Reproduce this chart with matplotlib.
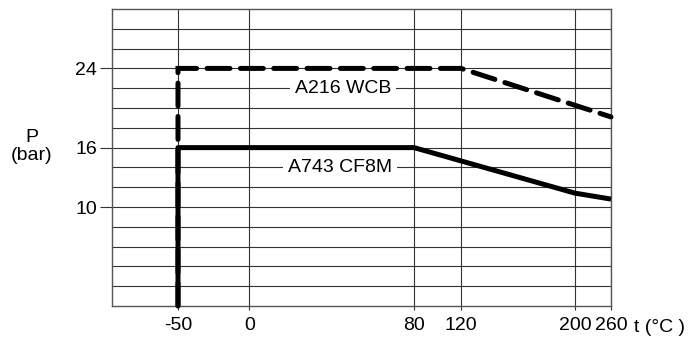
import numpy as np
import matplotlib
matplotlib.use("Agg")
import matplotlib.pyplot as plt

plt.rcParams['font.family'] = ['Liberation Sans', 'DejaVu Sans']
plt.rcParams['lines.scale_dashes'] = False

# data
t_wcb = [-50, -50, 120, 260]
p_wcb = [0, 24, 24, 19.1]
t_cf8m = [-50, -50, 80, 200, 260]
p_cf8m = [0, 16, 16, 11.4, 10.8]

x_ticks = [-50, 0, 80, 120, 200, 260]
y_ticks = [10, 16, 24]

# the temperature axis is not linear: tick -> position on the drawing
scale_t = [-100, -50, 0, 80, 120, 200, 260]
scale_pos = [0, 66, 137.5, 302, 349, 463, 499]


def fwd(x):
    return np.interp(x, scale_t, scale_pos, left=np.nan, right=np.nan)


def inv(y):
    return np.interp(y, scale_pos, scale_t)


fig = plt.figure(figsize=(6.9, 3.41), dpi=100)
ax = fig.add_axes([0.1623, 0.1026, 0.7232, 0.871])
ax.set_xscale('function', functions=(fwd, inv))
ax.set_xlim(-100, 260)
ax.set_ylim(0, 30)

# grid
ax.set_xticks(x_ticks)
ax.set_xticklabels([str(v) for v in x_ticks])
ax.set_yticks(y_ticks)
ax.set_yticks(np.arange(2, 30, 2), minor=True)
ax.xaxis.set_minor_locator(matplotlib.ticker.NullLocator())
ax.grid(True, which='both', color='#333333', linewidth=0.8)
ax.set_axisbelow(True)
for s in ax.spines.values():
    s.set_color('#555555')
    s.set_linewidth(1.0)

ax.tick_params(axis='y', which='major', length=8.6, width=0.8, color='#333333',
               pad=2, labelsize=14)
ax.tick_params(axis='y', which='minor', length=0)
ax.tick_params(axis='x', length=3, width=0.8, color='#333333', pad=5, labelsize=14)

# curves
ax.plot(t_wcb, p_wcb, color='black', linewidth=3.6, dashes=(16.5, 7.5),
        dash_capstyle='round', dash_joinstyle='miter', clip_on=False, zorder=3)
ax.plot(t_cf8m, p_cf8m, color='black', linewidth=3.6, solid_capstyle='butt',
        solid_joinstyle='round', clip_on=False, zorder=4)

# curve labels
box = dict(facecolor='white', edgecolor='none', pad=3.5)
ax.text(45.5, 22, 'A216 WCB', fontsize=14, ha='center', va='center', bbox=box, zorder=5)
ax.text(44, 14, 'A743 CF8M', fontsize=14, ha='center', va='center', bbox=box, zorder=5)

# axis titles
fig.text(32 / 690, 1 - 146 / 341, 'P', fontsize=14, ha='center', va='bottom')
fig.text(32 / 690, 1 - 147 / 341, '(bar)', fontsize=14, ha='center', va='top')
fig.text(659 / 690, 1 - 328 / 341, 't (°C )', fontsize=14, ha='center', va='center')

fig.savefig('out.png', dpi=100)
